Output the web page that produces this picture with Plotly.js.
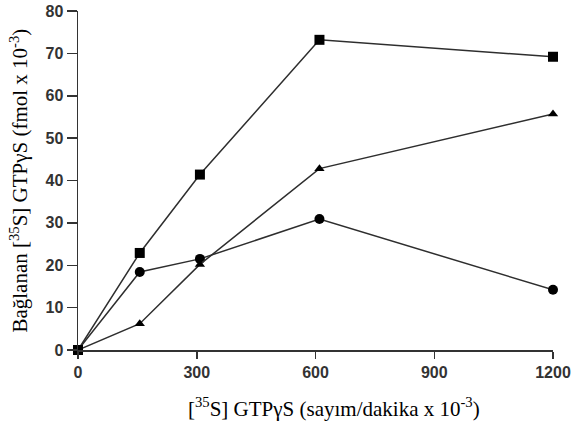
<!DOCTYPE html>
<html>
<head>
<meta charset="utf-8">
<script src="https://cdn.plot.ly/plotly-3.0.1.min.js"></script>
<style>html,body{margin:0;padding:0;background:#fff;}#chart{width:572px;height:421px;}</style>
</head>
<body>
<div id="chart"></div>
<script>
const xVals = [0, 156, 308, 610, 1200];
const squareVals = [0, 22.9, 41.4, 73.2, 69.2];
const triangleVals = [0, 6.2, 20.2, 42.8, 55.7];
const circleVals = [0, 18.4, 21.5, 30.9, 14.2];
const xTicks = [0, 300, 600, 900, 1200];
const yTicks = [0, 10, 20, 30, 40, 50, 60, 70, 80];
const xTitle = '[<sup>35</sup>S] GTPγS (sayım/dakika x 10<sup>-3</sup>)';
const yTitle = 'Bağlanan [<sup>35</sup>S] GTPγS (fmol x 10<sup>-3</sup>)';

const lineStyle = {color: '#2e2e2e', width: 1.5};
function series(y, symbol, size) {
  return {
    x: xVals, y: y, type: 'scatter', mode: 'lines+markers',
    line: lineStyle,
    marker: {symbol: symbol, size: size, color: '#000'},
    cliponaxis: false, showlegend: false
  };
}
const data = [
  series(circleVals, 'circle', 10),
  series(triangleVals, 'triangle-up', 9),
  series(squareVals, 'square', 10)
];
const tickFont = {family: 'Liberation Sans, Arial, sans-serif', size: 16, color: '#333', weight: 'bold'};
const titleFont = {family: 'Liberation Serif, Times New Roman, serif', size: 21, color: '#000'};
const layout = {
  width: 572, height: 421,
  margin: {l: 78, r: 19, t: 11, b: 71},
  paper_bgcolor: '#fff', plot_bgcolor: '#fff',
  xaxis: {
    range: [0, 1200], tickvals: xTicks, ticktext: xTicks.map(String),
    showgrid: false, zeroline: false, showline: true, linecolor: '#333', linewidth: 1.5,
    ticks: 'outside', ticklen: 7, tickcolor: '#333', tickwidth: 1.5,
    tickfont: tickFont
  },
  yaxis: {
    range: [0, 80], tickvals: yTicks, ticktext: yTicks.map(String),
    showgrid: false, zeroline: false, showline: true, linecolor: '#333', linewidth: 1.5,
    ticks: 'outside', ticklen: 10, tickcolor: '#333', tickwidth: 1.5,
    tickfont: tickFont
  },
  annotations: [
    {text: xTitle, xref: 'paper', yref: 'paper', x: 0.539, y: -0.171,
     xanchor: 'center', yanchor: 'middle', showarrow: false, font: titleFont},
    {text: yTitle, xref: 'paper', yref: 'paper', x: -0.124, y: 0.5, textangle: -90,
     xanchor: 'center', yanchor: 'middle', showarrow: false, font: titleFont}
  ]
};
Plotly.newPlot('chart', data, layout, {staticPlot: true, displayModeBar: false});
</script>
</body>
</html>
